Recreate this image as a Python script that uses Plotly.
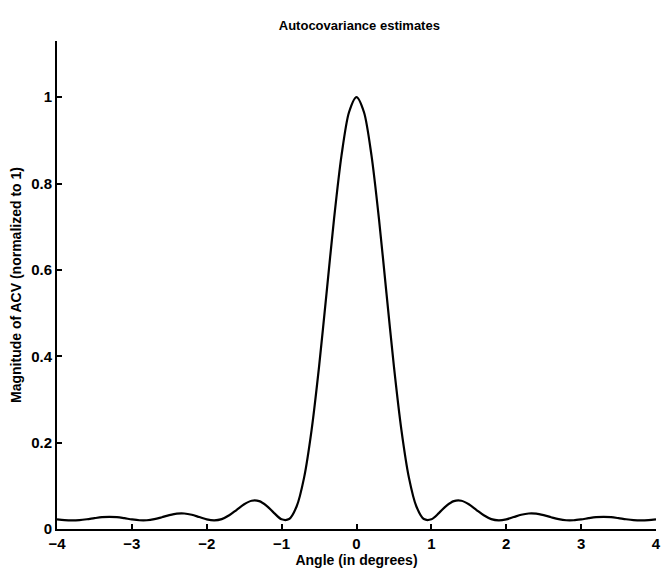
import plotly.graph_objects as go

angle_deg = [-4.0, -3.9, -3.8, -3.7, -3.6, -3.5, -3.4, -3.3, -3.2, -3.1,
             -3.0, -2.9, -2.8, -2.7, -2.6, -2.5, -2.4, -2.3, -2.2, -2.1,
             -2.0, -1.9, -1.8, -1.7, -1.6, -1.5, -1.4, -1.3, -1.2, -1.1,
             -1.0, -0.9, -0.8, -0.7, -0.6, -0.5, -0.4, -0.3, -0.2, -0.1,
             0.0,
             0.1, 0.2, 0.3, 0.4, 0.5, 0.6, 0.7, 0.8, 0.9, 1.0,
             1.1, 1.2, 1.3, 1.4, 1.5, 1.6, 1.7, 1.8, 1.9, 2.0,
             2.1, 2.2, 2.3, 2.4, 2.5, 2.6, 2.7, 2.8, 2.9, 3.0,
             3.1, 3.2, 3.3, 3.4, 3.5, 3.6, 3.7, 3.8, 3.9, 4.0]

acv_right = [0.965, 0.865, 0.718, 0.546, 0.376, 0.229, 0.119, 0.052, 0.023, 0.0224,
             0.0368, 0.0537, 0.0645, 0.0654, 0.0574, 0.0445, 0.0317, 0.0229, 0.020, 0.0224,
             0.0277, 0.033, 0.0359, 0.0355, 0.032, 0.0272, 0.0228, 0.0203, 0.0203, 0.0223,
             0.025, 0.0273, 0.0282, 0.0273, 0.0251, 0.0226, 0.0207, 0.020, 0.0206, 0.0221]
acv_magnitude = list(reversed(acv_right)) + [1.0] + acv_right

x_ticks = [-4, -3, -2, -1, 0, 1, 2, 3, 4]
x_tick_labels = ["\u22124", "\u22123", "\u22122", "\u22121", "0", "1", "2", "3", "4"]
y_ticks = [0, 0.2, 0.4, 0.6, 0.8, 1]
y_tick_labels = ["0", "0.2", "0.4", "0.6", "0.8", "1"]

font_family = "Liberation Sans, Arial, Helvetica, sans-serif"

fig = go.Figure()
fig.add_trace(go.Scatter(
    x=angle_deg, y=acv_magnitude, mode="lines",
    line=dict(color="black", width=2.2, shape="spline", smoothing=0.8),
    showlegend=False, hoverinfo="skip"))

fig.update_layout(
    width=663, height=569,
    margin=dict(l=57, r=7, t=41, b=40),
    paper_bgcolor="white", plot_bgcolor="white",
    font=dict(family=font_family, color="black", size=14),
    title=dict(text="Autocovariance estimates", x=0.542, xanchor="center",
               y=0.956, yanchor="middle",
               font=dict(family=font_family, size=13, color="black", weight="bold")),
    xaxis=dict(range=[-4, 4], tickvals=x_ticks, ticktext=x_tick_labels,
               showgrid=False, zeroline=False, showline=True, linecolor="black",
               linewidth=2, ticks="inside", ticklen=5, tickwidth=1.5,
               tickcolor="black", ticklabeloverflow="allow", automargin=False,
               tickfont=dict(size=15, family=font_family, weight="bold"),
               title=dict(text="Angle (in degrees)", standoff=0,
                          font=dict(size=14, family=font_family, weight="bold"))),
    yaxis=dict(range=[0, 1.13], tickvals=y_ticks, ticktext=y_tick_labels,
               showgrid=False, zeroline=False, showline=True, linecolor="black",
               linewidth=2, ticks="inside", ticklen=5, tickwidth=1.5,
               tickcolor="black", tickfont=dict(size=15, family=font_family, weight="bold"),
               title=dict(text="Magnitude of ACV (normalized to 1)", standoff=6,
                          font=dict(size=14, family=font_family, weight="bold"))),
)

fig.write_html("out.html")
